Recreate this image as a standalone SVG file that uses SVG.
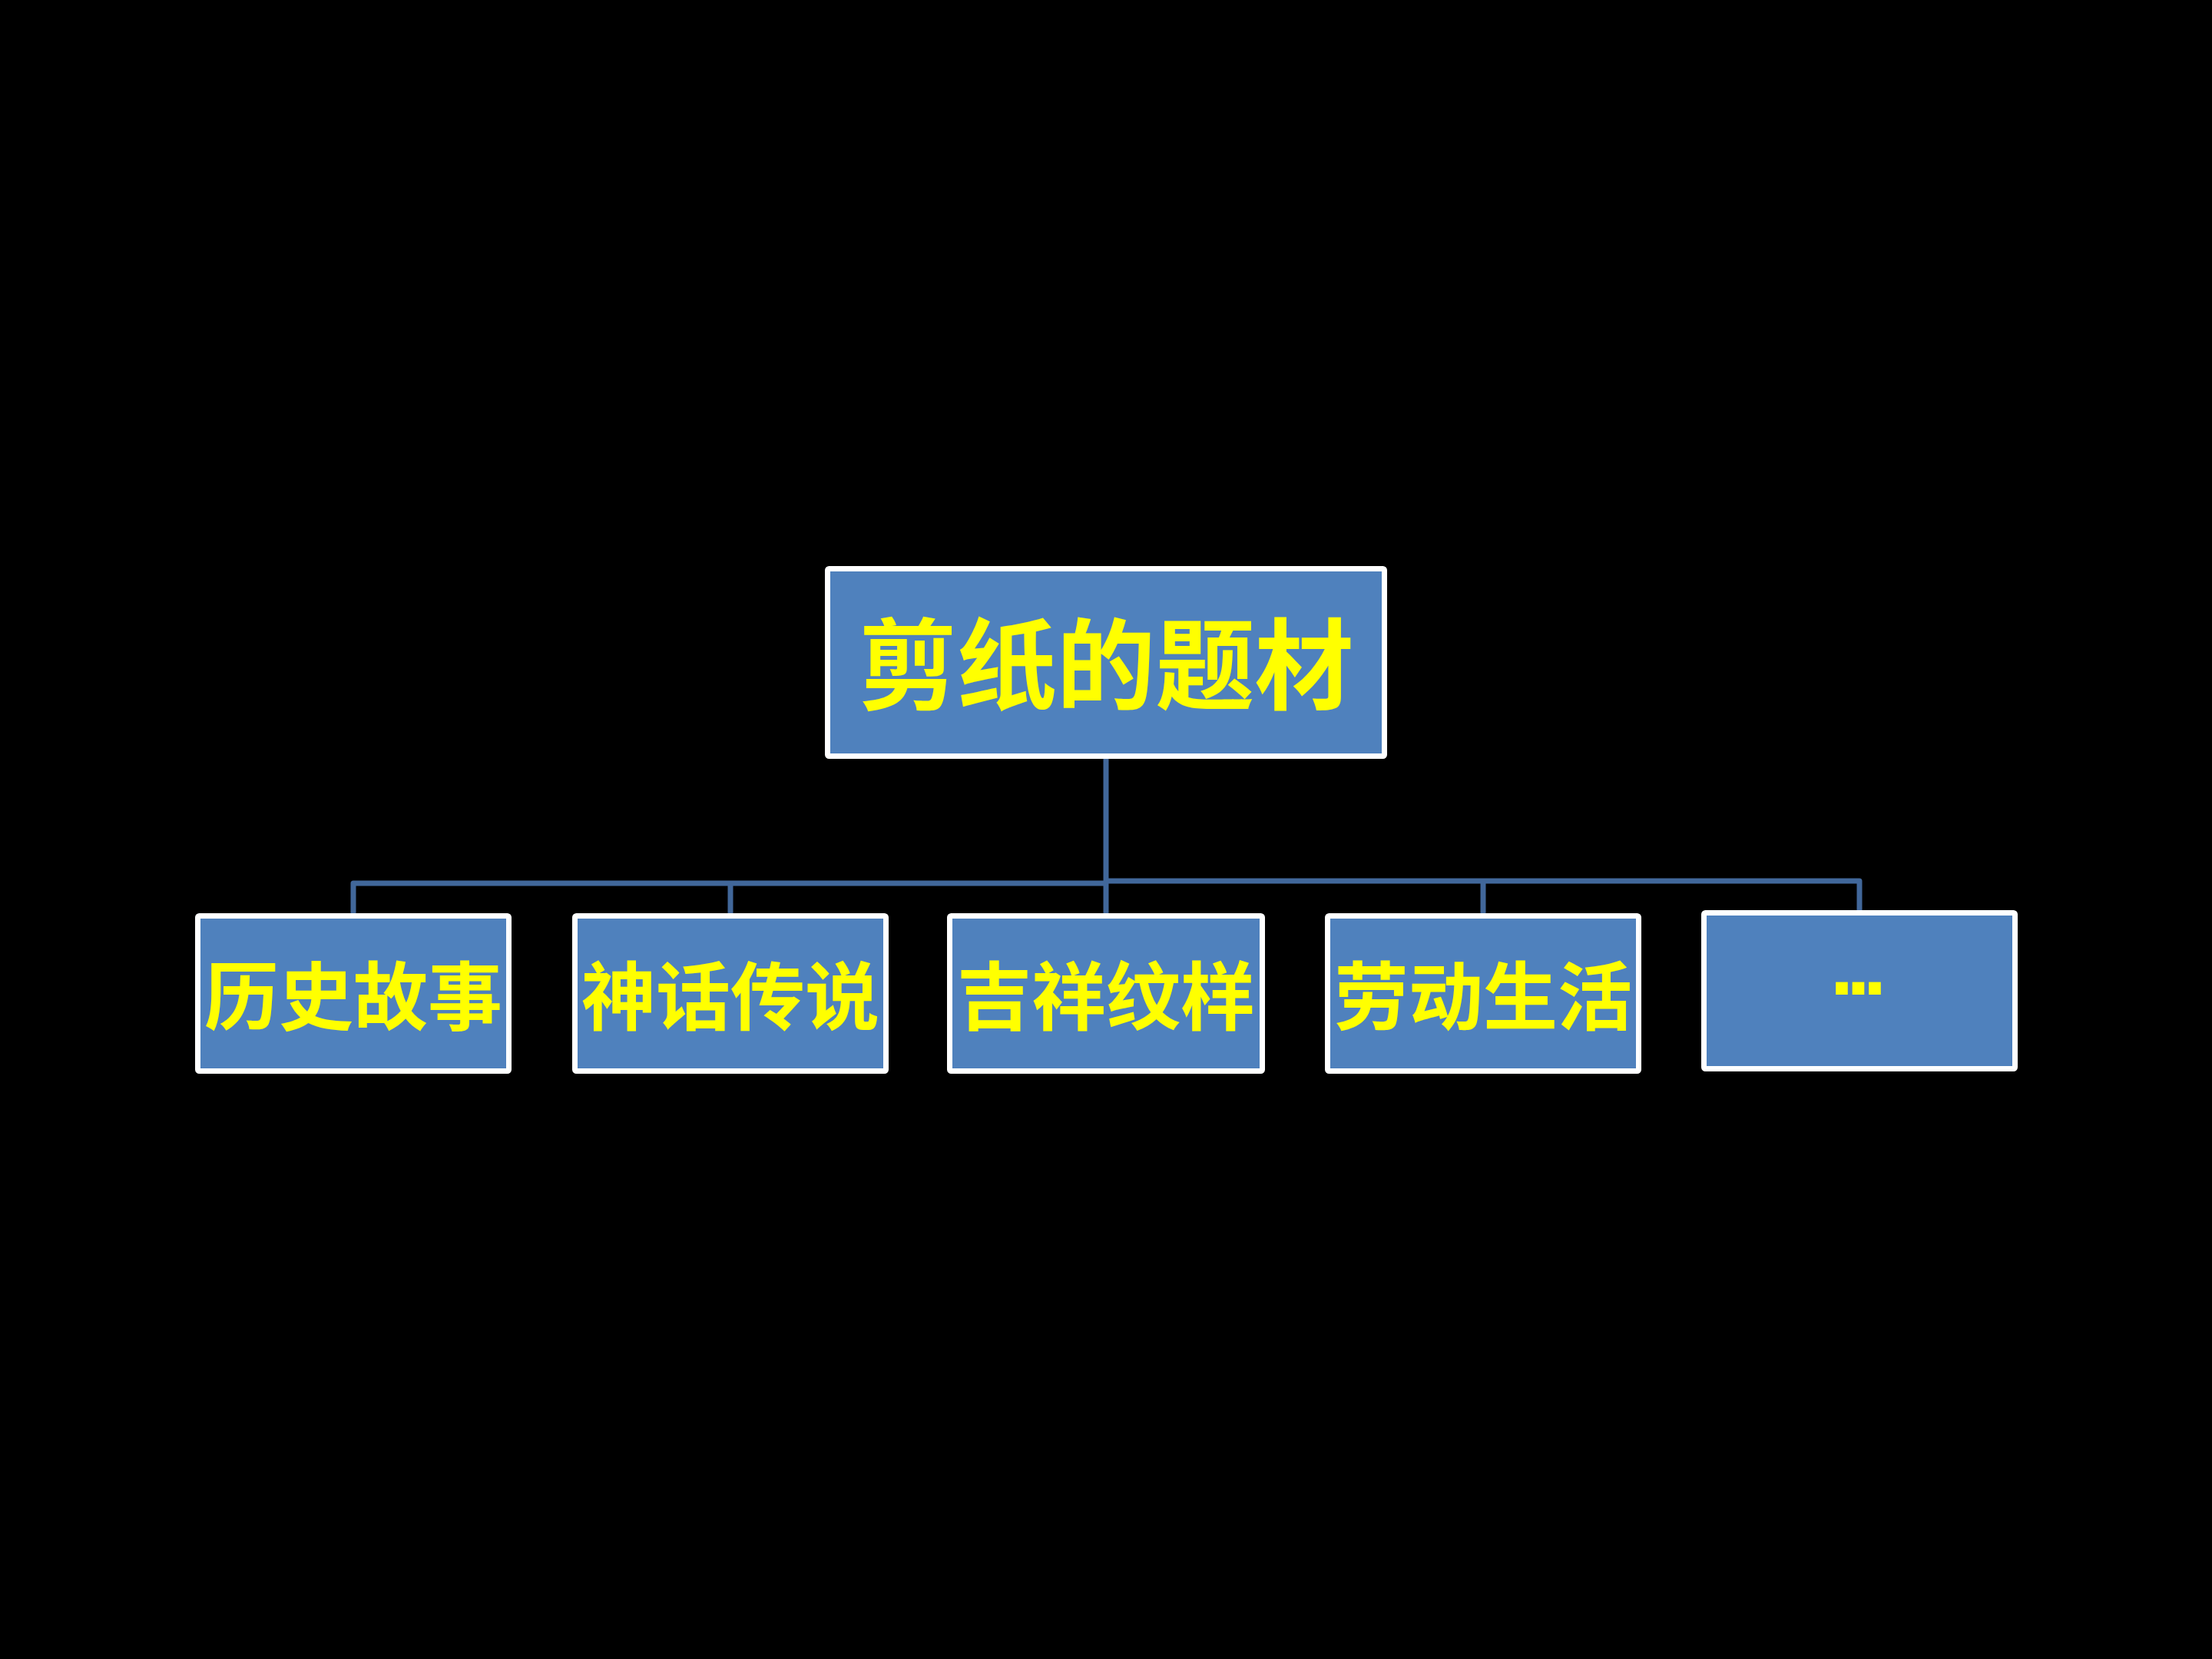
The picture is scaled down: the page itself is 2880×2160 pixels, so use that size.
<svg xmlns="http://www.w3.org/2000/svg" width="2880" height="2160" viewBox="0 0 2880 2160">
<style>
.box{fill:#4F81BD;stroke:#FFFFFF;stroke-width:7}
.lbl{fill:#FFFF00;font-family:"Noto Sans CJK SC","Noto Sans CJK TC",sans-serif;font-weight:700;text-anchor:middle}
.conn{fill:none;stroke:#41679A;stroke-width:7;stroke-linejoin:round}
</style>
<rect x="0" y="0" width="2880" height="2160" fill="#000000"/>
<g id="connectors">
<path class="conn" d="M1440,988 V1150"/>
<path class="conn" d="M460,1189 V1150 H1440"/>
<path class="conn" d="M951,1189 V1150"/>
<path class="conn" d="M1440,1150 V1189"/>
<path class="conn" d="M1440,1147 H2421 V1185"/>
<path class="conn" d="M1931,1147 V1189"/>
</g>
<g id="root">
<rect class="box" x="1077.5" y="740.5" width="725" height="244" rx="2"/>
<text class="lbl" x="1440" y="914" font-size="129">剪纸的题材</text>
</g>
<g id="n1">
<rect class="box" x="257.5" y="1192.5" width="405" height="202" rx="2"/>
<text class="lbl" x="460" y="1333" font-size="97">历史故事</text>
</g>
<g id="n2">
<rect class="box" x="748.5" y="1192.5" width="405" height="202" rx="2"/>
<text class="lbl" x="951" y="1333" font-size="97">神话传说</text>
</g>
<g id="n3">
<rect class="box" x="1236.5" y="1192.5" width="407" height="202" rx="2"/>
<text class="lbl" x="1440" y="1333" font-size="97">吉祥纹样</text>
</g>
<g id="n4">
<rect class="box" x="1728.5" y="1192.5" width="405" height="202" rx="2"/>
<text class="lbl" x="1931" y="1333" font-size="97">劳动生活</text>
</g>
<g id="n5">
<rect class="box" x="2218.5" y="1188.5" width="405" height="203" rx="2"/>
<text x="2415" y="1295" font-size="110" fill="#FFFF00" font-family="'Liberation Sans',sans-serif" font-weight="700" text-anchor="middle" letter-spacing="-9">...</text>
</g>
</svg>
